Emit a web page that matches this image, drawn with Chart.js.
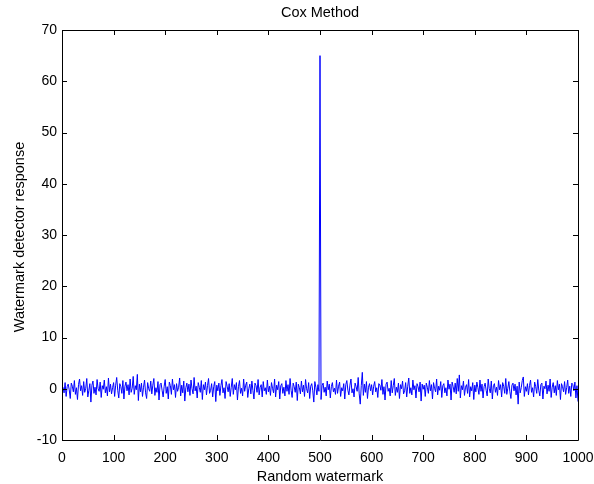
<!DOCTYPE html>
<html>
<head>
<meta charset="utf-8">
<script src="https://cdn.jsdelivr.net/npm/chart.js@4/dist/chart.umd.min.js"></script>
<style>
  html, body { margin: 0; padding: 0; background: #fff; }
  #wrap { width: 594px; height: 484px; }
</style>
</head>
<body>
<div id="wrap"><canvas id="chart1" width="594" height="484"></canvas></div>
<script>
// detector response, read every 2 watermarks, one array per 100
const resp0 = [0.3,-0.8,1.2,-1.5,0.4,0.9,-0.2,-1.9,1.1,0.5,-0.6,1.6,-1.1,0.2,-2.1,0.8,1.9,-0.4,0.6,-1.3,1.4,-0.7,0.1,2.0,-1.6,-0.3,1.0,-2.6,0.7,1.5,-0.9,0.3,-1.2,1.8,0.0,-0.5,1.3,-1.7,0.6,-0.1,1.7,-0.8,0.4,-1.4,2.1,-0.6,0.9,-1.0,0.2,1.2];
const resp100 = [-1.5,0.7,2.2,-0.3,-1.8,1.0,0.4,-0.9,1.6,-2.0,0.5,1.3,-0.4,0.8,-1.2,1.9,-0.7,0.1,2.4,-1.1,0.6,-0.2,2.8,-2.3,0.9,-0.6,1.1,-1.5,0.3,1.7,-0.8,-1.9,1.2,0.0,-0.5,1.5,-1.0,0.7,2.0,-1.3,0.2,-0.7,1.4,-2.2,0.8,1.1,-0.3,-1.6,0.5,1.8];
const resp200 = [-0.9,0.4,-2.0,1.3,0.6,-1.1,1.9,-0.2,0.8,-1.7,1.0,-0.5,0.3,2.1,-1.4,0.7,-0.8,1.5,-2.4,0.2,1.1,-0.6,0.9,-1.3,1.7,0.0,-1.0,2.2,-0.4,0.5,-1.8,1.2,0.3,-0.7,1.6,-2.1,0.8,-0.2,1.3,-1.2,0.6,2.0,-0.9,-0.3,1.0,-1.6,0.4,1.4,-2.5,0.7];
const resp300 = [-0.4,1.1,-1.3,0.6,1.8,-0.8,0.2,-1.9,1.4,0.5,-0.6,1.0,-1.5,0.3,2.0,-1.1,0.8,-0.2,1.2,-2.2,0.4,1.6,-0.9,0.1,-1.4,1.9,-0.5,0.7,1.3,-1.7,0.0,0.9,-1.0,1.5,-0.3,-2.0,1.1,0.6,-0.7,1.8,-1.2,0.3,0.8,-1.6,1.4,-0.4,0.2,-1.1,1.7,-0.6];
const resp400 = [0.5,-1.3,1.2,0.1,-0.8,1.9,-1.6,0.7,-0.2,1.4,-2.0,0.6,1.0,-0.9,0.3,-1.4,1.6,-0.5,0.8,-1.1,2.0,-0.3,-1.7,1.1,0.4,-0.7,1.3,-2.3,0.9,0.2,-1.0,1.5,-0.6,0.7,-1.5,1.8,0.0,-0.8,1.2,-1.9,0.5,1.0,-0.4,-2.6,1.4,0.3,-1.2,0.8,-0.5,65.0];
const resp500 = [-2.1,0.6,1.1,-0.7,0.3,-1.4,1.5,-0.2,0.9,-1.8,0.4,1.2,-0.6,0.1,-1.1,1.7,-0.9,0.5,1.3,-1.5,0.2,-0.4,1.0,-2.0,0.8,1.6,-0.3,-1.2,0.7,1.9,-0.8,0.0,-1.6,1.1,0.4,-0.5,2.2,-1.0,-3.0,0.6,3.2,-1.3,0.9,-0.7,1.4,-1.9,0.3,1.0,-0.4,0.8];
const resp600 = [-1.2,0.5,1.4,-0.6,0.2,-1.7,1.0,0.7,-0.3,1.8,-1.1,0.4,-2.2,0.9,1.3,-0.5,0.1,-1.4,1.6,-0.8,0.6,2.0,-1.3,0.3,-0.7,1.1,-1.9,0.8,0.0,1.5,-1.0,-0.4,1.2,-1.6,0.5,2.1,-0.9,0.2,-1.2,1.7,-0.2,0.6,-1.8,1.0,0.4,-0.6,1.3,-2.4,0.9,-0.1];
const resp700 = [0.7,-1.5,1.1,0.3,-0.9,1.6,-0.4,0.8,-2.0,1.2,0.1,-0.6,1.9,-1.2,0.5,-0.3,1.4,-1.7,0.6,1.0,-0.8,0.2,-1.4,1.7,-0.1,0.9,-2.2,1.3,0.4,-0.7,1.1,-1.0,2.0,-0.5,2.7,-1.8,0.6,-0.2,1.5,-1.3,0.3,0.8,-0.9,1.8,-1.6,0.4,-0.4,1.2,-2.1,0.7];
const resp800 = [-0.6,1.3,0.2,-1.1,1.7,-0.5,0.9,-1.8,0.4,1.1,-0.3,-1.4,1.9,0.0,-0.8,1.5,-2.0,0.6,1.0,-0.7,0.3,-1.3,1.6,-0.2,0.8,-1.6,1.2,0.5,-0.9,2.0,-1.1,0.1,1.4,-0.6,-1.9,0.7,1.1,-0.4,0.9,-1.2,0.5,-3.0,1.3,-0.8,0.2,1.6,2.3,-1.5,0.4,-0.5];
const resp900 = [1.0,-1.2,0.6,1.7,-0.7,0.2,-1.6,1.3,0.4,-0.9,1.8,-0.3,-1.4,0.8,1.1,-2.0,0.5,0.0,1.5,-1.0,0.7,-0.5,1.9,-1.7,0.3,1.2,-0.8,0.6,-1.3,1.6,-0.2,0.9,-2.1,1.0,0.4,-0.6,1.4,-1.1,0.2,1.7,-0.9,0.5,-1.5,1.1,0.8,-0.4,1.3,-1.8,0.6,-2.5];

const blocks = [resp0, resp100, resp200, resp300, resp400, resp500, resp600, resp700, resp800, resp900];
const step = 2;

const points = [];
blocks.forEach((vals, b) => {
  vals.forEach((v, j) => points.push({ x: b * 100 + (j + 1) * step, y: v }));
});

const family = "'Liberation Sans', Arial, sans-serif";
const tickFont = { family: family, size: 14 };

// matlab style box with inward ticks, plus the texts
const boxPlugin = {
  id: 'box',
  afterDraw(chart) {
    const { ctx, chartArea: a, scales } = chart;
    ctx.save();
    ctx.strokeStyle = '#000';
    ctx.lineWidth = 1;
    ctx.beginPath();
    ctx.rect(a.left + 0.5, a.top + 0.5, a.right - a.left, a.bottom - a.top);
    scales.x.ticks.forEach(t => {
      const px = Math.round(scales.x.getPixelForValue(t.value)) + 0.5;
      ctx.moveTo(px, a.bottom); ctx.lineTo(px, a.bottom - 5);
      ctx.moveTo(px, a.top); ctx.lineTo(px, a.top + 5);
    });
    scales.y.ticks.forEach(t => {
      const py = Math.round(scales.y.getPixelForValue(t.value)) + 0.5;
      ctx.moveTo(a.left, py); ctx.lineTo(a.left + 5, py);
      ctx.moveTo(a.right, py); ctx.lineTo(a.right - 5, py);
    });
    ctx.stroke();

    ctx.fillStyle = '#000';
    ctx.textAlign = 'center';
    ctx.textBaseline = 'alphabetic';
    ctx.font = '14.5px ' + family;
    ctx.fillText('Cox Method', (a.left + a.right) / 2, 17);
    ctx.fillText('Random watermark', (a.left + a.right) / 2, 481);
    ctx.translate(24, (a.top + a.bottom) / 2 + 2);
    ctx.rotate(-Math.PI / 2);
    ctx.fillText('Watermark detector response', 0, 0);
    ctx.restore();
  }
};

new Chart(document.getElementById('chart1'), {
  type: 'line',
  data: {
    datasets: [{
      data: points,
      borderColor: 'rgb(0,0,255)',
      borderWidth: 1,
      pointRadius: 0,
      tension: 0,
      fill: false
    }]
  },
  options: {
    responsive: false,
    animation: false,
    layout: { padding: { top: 30, right: 0, left: 0, bottom: 0 } },
    plugins: { legend: { display: false }, tooltip: { enabled: false }, title: { display: false } },
    scales: {
      x: {
        type: 'linear', min: 0, max: 1000,
        ticks: { stepSize: 100, color: '#000', font: tickFont, padding: 10, maxRotation: 0, callback: v => String(v) },
        grid: { display: false, drawTicks: false },
        border: { display: false },
        afterFit(s) { s.height = 44; s.paddingRight = 16; s.paddingLeft = 0; }
      },
      y: {
        min: -10, max: 70,
        ticks: { stepSize: 10, color: '#000', font: tickFont, padding: 5, callback: v => String(v) },
        grid: { display: false, drawTicks: false },
        border: { display: false },
        afterFit(s) { s.width = 62; s.paddingTop = 0; s.paddingBottom = 0; }
      }
    }
  },
  plugins: [boxPlugin]
});
</script>
</body>
</html>
